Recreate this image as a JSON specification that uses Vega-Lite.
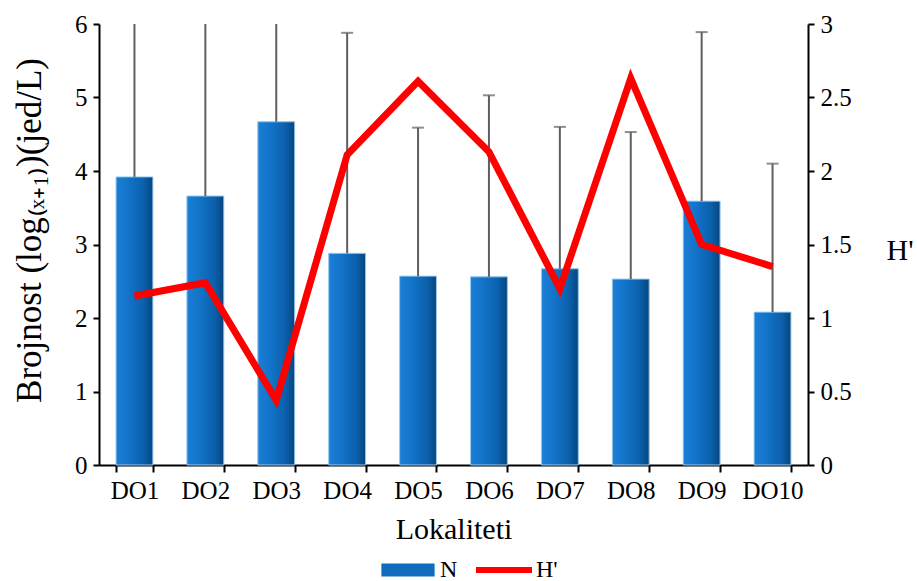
{
  "$schema": "https://vega.github.io/schema/vega-lite/v6.json",
  "autosize": {"type": "none"},
  "width": 709,
  "height": 441,
  "padding": {"left": 99, "top": 24, "right": 109, "bottom": 116},
  "background": "white",
  "config": {
    "view": {"stroke": null},
    "font": "Liberation Serif",
    "axis": {
      "grid": false,
      "domainColor": "black",
      "domainWidth": 2,
      "tickColor": "black",
      "tickWidth": 2,
      "labelFont": "Liberation Serif",
      "labelColor": "black",
      "titleFont": "Liberation Serif",
      "titleColor": "black",
      "titleFontWeight": "normal"
    }
  },
  "data": {
    "values": [
      {"site": "DO1", "N": 3.92, "Ntop": 6.8, "H": 1.15},
      {"site": "DO2", "N": 3.66, "Ntop": 6.9, "H": 1.24},
      {"site": "DO3", "N": 4.67, "Ntop": 7.4, "H": 0.44},
      {"site": "DO4", "N": 2.88, "Ntop": 5.88, "H": 2.11},
      {"site": "DO5", "N": 2.57, "Ntop": 4.59, "H": 2.61},
      {"site": "DO6", "N": 2.56, "Ntop": 5.03, "H": 2.13},
      {"site": "DO7", "N": 2.67, "Ntop": 4.6, "H": 1.2},
      {"site": "DO8", "N": 2.53, "Ntop": 4.53, "H": 2.63},
      {"site": "DO9", "N": 3.59, "Ntop": 5.89, "H": 1.5},
      {"site": "DO10", "N": 2.08, "Ntop": 4.1, "H": 1.35}
    ]
  },
  "encoding": {
    "x": {
      "field": "site",
      "type": "nominal",
      "sort": null,
      "scale": {"paddingInner": 0.48, "paddingOuter": 0.24},
      "axis": {
        "title": "Lokaliteti",
        "labelAngle": 0,
        "labelFont": "Liberation Serif",
        "titleFont": "Liberation Serif",
        "labelFontSize": 25,
        "titleFontSize": 30,
        "titleBaseline": "alphabetic",
        "titleY": 73,
        "tickBand": "extent",
        "tickSize": 7,
        "labelPadding": 6
      }
    }
  },
  "layer": [
    {
      "encoding": {
        "y": {
          "field": "N",
          "type": "quantitative",
          "scale": {"domain": [0, 6], "nice": false},
          "axis": {
            "title": "Brojnost (log₍ₓ₊₁₎)(jed/L)",
            "values": [0, 1, 2, 3, 4, 5, 6],
            "labelFont": "Liberation Serif",
            "titleFont": "Liberation Serif",
            "labelFontSize": 25,
            "titleFontSize": 35,
            "tickSize": 6,
            "labelPadding": 6,
            "titleAngle": -90,
            "titleAlign": "center",
            "titleBaseline": "middle",
            "titleX": -70,
            "titleY": 206
          }
        }
      },
      "layer": [
        {
          "mark": {"type": "bar"},
          "encoding": {
            "color": {
              "datum": "N",
              "type": "nominal",
              "scale": {"domain": ["N", "H'"], "range": ["#0f6cbd", "#ff0000"]},
              "legend": {
                "title": null,
                "orient": "none",
                "legendX": 281,
                "legendY": 518,
                "direction": "horizontal",
                "padding": 0,
                "labelFontSize": 24,
                "labelFont": "Liberation Serif",
                "labelColor": "black",
                "symbolSize": 3136,
                "columnPadding": 18,
                "labelOffset": 4,
                "encode": {
                  "symbols": {
                    "update": {
                      "shape": {"signal": "datum.value === 'N' ? 'M-0.95,-0.23H0.95V0.23H-0.95Z' : 'M-1,-0.23M-1,-0.11H1V0.11H-1Z'"},
                      "size": {"value": 3136},
                      "fill": {"signal": "datum.value === 'N' ? '#0f6cbd' : '#ff0000'"},
                      "fillOpacity": {"value": 1},
                      "opacity": {"value": 1},
                      "strokeWidth": {"value": 0}
                    }
                  }
                }
              }
            }
          }
        },
        {
          "mark": {
            "type": "bar",
            "stroke": "#9fcdf0",
            "strokeWidth": 1,
            "fill": {
              "gradient": "linear",
              "x1": 0, "y1": 0, "x2": 1, "y2": 0,
              "stops": [
                {"offset": 0, "color": "#1b7fd6"},
                {"offset": 0.35, "color": "#1273c8"},
                {"offset": 0.75, "color": "#0b60ab"},
                {"offset": 1, "color": "#06457f"}
              ]
            }
          }
        },
        {
          "mark": {"type": "rule", "color": "#5f5f5f", "strokeWidth": 2, "clip": true},
          "encoding": {"y2": {"field": "Ntop"}}
        },
        {
          "mark": {"type": "tick", "color": "#5f5f5f", "thickness": 2, "size": 12, "clip": true},
          "encoding": {
            "y": {"field": "Ntop", "type": "quantitative"}
          }
        }
      ]
    },
    {
      "mark": {"type": "line", "strokeWidth": 7, "strokeJoin": "miter"},
      "encoding": {
        "y": {
          "field": "H",
          "type": "quantitative",
          "scale": {"domain": [0, 3], "nice": false},
          "axis": {
            "orient": "right",
            "title": "H'",
            "values": [0, 0.5, 1, 1.5, 2, 2.5, 3],
            "format": "~g",
            "labelFont": "Liberation Serif",
            "titleFont": "Liberation Serif",
            "labelFontSize": 25,
            "titleFontSize": 30,
            "titleAngle": 0,
            "titleAlign": "left",
            "titleBaseline": "middle",
            "titleX": 78,
            "titleY": 226,
            "tickSize": 6,
            "labelPadding": 6
          }
        },
        "color": {"datum": "H'", "type": "nominal"}
      }
    }
  ],
  "resolve": {"scale": {"y": "independent"}}
}
